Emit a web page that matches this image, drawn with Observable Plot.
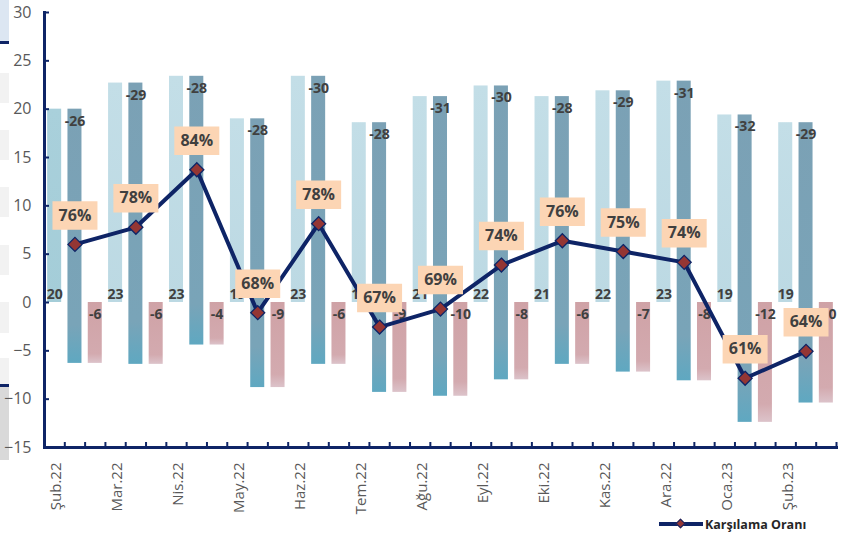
<!DOCTYPE html>
<html><head><meta charset="utf-8">
<script src="https://cdn.jsdelivr.net/npm/d3@7"></script>
<script src="https://cdn.jsdelivr.net/npm/@observablehq/plot@0.6"></script>
<style>
body{margin:0;background:#fff;font-family:"Open Sans",sans-serif;}
#wrap{position:relative;width:846px;height:536px;overflow:hidden;}
#wrap svg{position:absolute;left:0;top:0;}
.strip{position:absolute;left:0;width:9px;}
#legend{position:absolute;left:659px;top:515px;height:18px;display:flex;align-items:center;}
#legend .ln{position:relative;width:44px;height:4px;background:#0E2466;}
#legend .dm{position:absolute;left:18px;top:-2.5px;width:7px;height:7px;background:#943634;border:1px solid #0E2466;box-sizing:border-box;transform:rotate(45deg);}
#legend .tx{margin-left:2px;font-weight:700;font-size:12.5px;color:#262626;}
</style></head><body>
<div id="wrap">
  <div class="strip" style="top:0;height:41px;background:#DCE6F2"></div>
  <div class="strip" style="top:41px;height:3px;background:#0E2466"></div>
  <div class="strip" style="top:73px;height:30px;background:#F2F2F2"></div>
  <div class="strip" style="top:130px;height:30px;background:#F2F2F2"></div>
  <div class="strip" style="top:187px;height:30px;background:#F2F2F2"></div>
  <div class="strip" style="top:245px;height:30px;background:#F2F2F2"></div>
  <div class="strip" style="top:302px;height:31px;background:#F2F2F2"></div>
  <div class="strip" style="top:358px;height:26px;background:#F2F2F2"></div>
  <div class="strip" style="top:384px;height:3px;background:#0E2466"></div>
  <div class="strip" style="top:387px;height:73px;background:#D9D9D9"></div>
  <div id="legend"><span class="ln"><span class="dm"></span></span><span class="tx">Karşılama Oranı</span></div>
</div>
<script>
// ---- data (billion USD; coverage ratio in %) ----
const months = ["Şub.22","Mar.22","Nis.22","May.22","Haz.22","Tem.22","Ağu.22","Eyl.22","Eki.22","Kas.22","Ara.22","Oca.23","Şub.23"];
const exportsBn = [20.0, 22.7, 23.4, 19.0, 23.4, 18.6, 21.3, 22.4, 21.3, 21.9, 22.9, 19.4, 18.6];
const importsBn = [26.3, 29.1, 27.8, 27.8, 29.8, 27.9, 31.0, 30.4, 27.7, 29.1, 31.0, 31.8, 29.0];
const coverage  = [75.9, 77.8, 84.2, 68.3, 78.2, 66.7, 68.7, 73.6, 76.3, 75.1, 73.9, 61.0, 64.0];
const yTicks = [-15, -10, -5, 0, 5, 10, 15, 20, 25, 30];
const yDomain = [-15, 30];
const ratioAxis = [53.3, 101.7]; // hidden secondary axis of the ratio line, spanning yDomain
const slots = ["ihr", "ith", "denge"];

const key = (m, s) => m + "|" + s;
const xDomain = months.flatMap(m => slots.map(s => key(m, s)));
const rows = months.map((m, i) => ({
  month: m,
  exp: exportsBn[i],
  imp: importsBn[i],
  bal: Math.round((exportsBn[i] - importsBn[i]) * 10) / 10,
  cov: coverage[i]
}));
const toLeft = r => yDomain[0] + (r - ratioAxis[0]) * (yDomain[1] - yDomain[0]) / (ratioAxis[1] - ratioAxis[0]);

const navy = "#0E2466";
const labelColor = "#404040";
const boxSymbol = {draw(ctx) { ctx.moveTo(-22.5, -14.25); ctx.lineTo(22.5, -14.25); ctx.lineTo(22.5, 14.25); ctx.lineTo(-22.5, 14.25); ctx.closePath(); }};
const W = 846, H = 536, mL = 44, mR = 10;
const step = (W - mL - mR) / xDomain.length;

const lbl = {fontFamily: "'Open Sans', sans-serif", fontWeight: "bold", fontSize: 14, fill: labelColor};

const chart = Plot.plot({
  width: W, height: H,
  marginLeft: mL, marginRight: mR, marginTop: 12, marginBottom: 89,
  style: {fontFamily: "'Open Sans', sans-serif", background: "transparent", overflow: "visible"},
  x: {type: "band", domain: xDomain, paddingInner: 0.31, paddingOuter: 0.155, round: false, axis: null},
  y: {domain: yDomain, axis: null},
  marks: [
    Plot.barY(rows, {x: d => key(d.month, "ihr"), y1: 0, y2: "exp", fill: (d, i) => i === 0 ? "url(#gLight0)" : "url(#gLight)"}),
    Plot.barY(rows, {x: d => key(d.month, "ith"), y1: "exp", y2: "bal", fill: "url(#gDark)"}),
    Plot.barY(rows, {x: d => key(d.month, "denge"), y1: 0, y2: "bal", fill: "url(#gPink)"}),
    Plot.text(rows, {x: d => key(d.month, "ihr"), y: 0, dy: -8, text: d => String(Math.round(d.exp)), ...lbl}),
    Plot.text(rows, {x: d => key(d.month, "ith"), y: "exp", dy: 12, text: d => String(-Math.round(d.imp)), ...lbl}),
    Plot.text(rows, {x: d => key(d.month, "denge"), y: 0, dy: 12, text: d => String(Math.round(d.bal)), ...lbl}),
    Plot.axisY(yTicks, {anchor: "left", tickSize: 0, tickPadding: 13, fill: "#595959", fontSize: 16}),
    Plot.axisY(yTicks, {anchor: "left", tickSize: 5, dx: 5, text: null, stroke: navy, strokeWidth: 2}),
    Plot.axisX(xDomain, {anchor: "bottom", tickSize: 5, dy: -5, dx: step / 2, text: null, stroke: navy, strokeWidth: 2}),
    Plot.axisX(xDomain.filter(k => k.endsWith("|ihr")), {anchor: "bottom", tickSize: 0, tickPadding: 15, tickRotate: -90, tickFormat: k => k.split("|")[0], fill: "#595959", fontSize: 15, dx: 2}),
    Plot.frame({anchor: "left", stroke: navy, strokeWidth: 3}),
    Plot.frame({anchor: "bottom", stroke: navy, strokeWidth: 3}),
    Plot.line(rows, {x: d => key(d.month, "ith"), y: d => toLeft(d.cov), stroke: navy, strokeWidth: 4, strokeLinejoin: "round"}),
    Plot.dot(rows, {x: d => key(d.month, "ith"), y: d => toLeft(d.cov), symbol: "diamond2", r: 6.3, fill: "#943634", stroke: navy, strokeWidth: 1.3}),
    Plot.dot(rows, {x: d => key(d.month, "ith"), y: d => toLeft(d.cov), dy: -29, symbol: boxSymbol, r: 5, fill: "#FCD5B4", stroke: "none"}),
    Plot.text(rows, {x: d => key(d.month, "ith"), y: d => toLeft(d.cov), dy: -29, text: d => Math.round(d.cov) + "%", fontFamily: "'Open Sans', sans-serif", fontWeight: "bold", fontSize: 16, fill: labelColor})
  ]
});

const defs = d3.select(chart).insert("defs", ":first-child");
function grad(id, stops) {
  const g = defs.append("linearGradient").attr("id", id).attr("x1", 0).attr("y1", 0).attr("x2", 0).attr("y2", 1);
  stops.forEach(([o, c]) => g.append("stop").attr("offset", o).attr("stop-color", c));
}
grad("gLight", [[0, "#C3DEE7"], [1, "#BCD9E3"]]);
grad("gLight0", [[0, "#A9D0DB"], [1, "#A4CDD8"]]);
grad("gDark", [[0, "#7BA1B5"], [0.85, "#79A4B8"], [1, "#5FA8C1"]]);
grad("gPink", [[0, "#CFA2A6"], [0.85, "#D3AAAF"], [1, "#DCC3CA"]]);

document.getElementById("wrap").appendChild(chart);
</script>
</body></html>
